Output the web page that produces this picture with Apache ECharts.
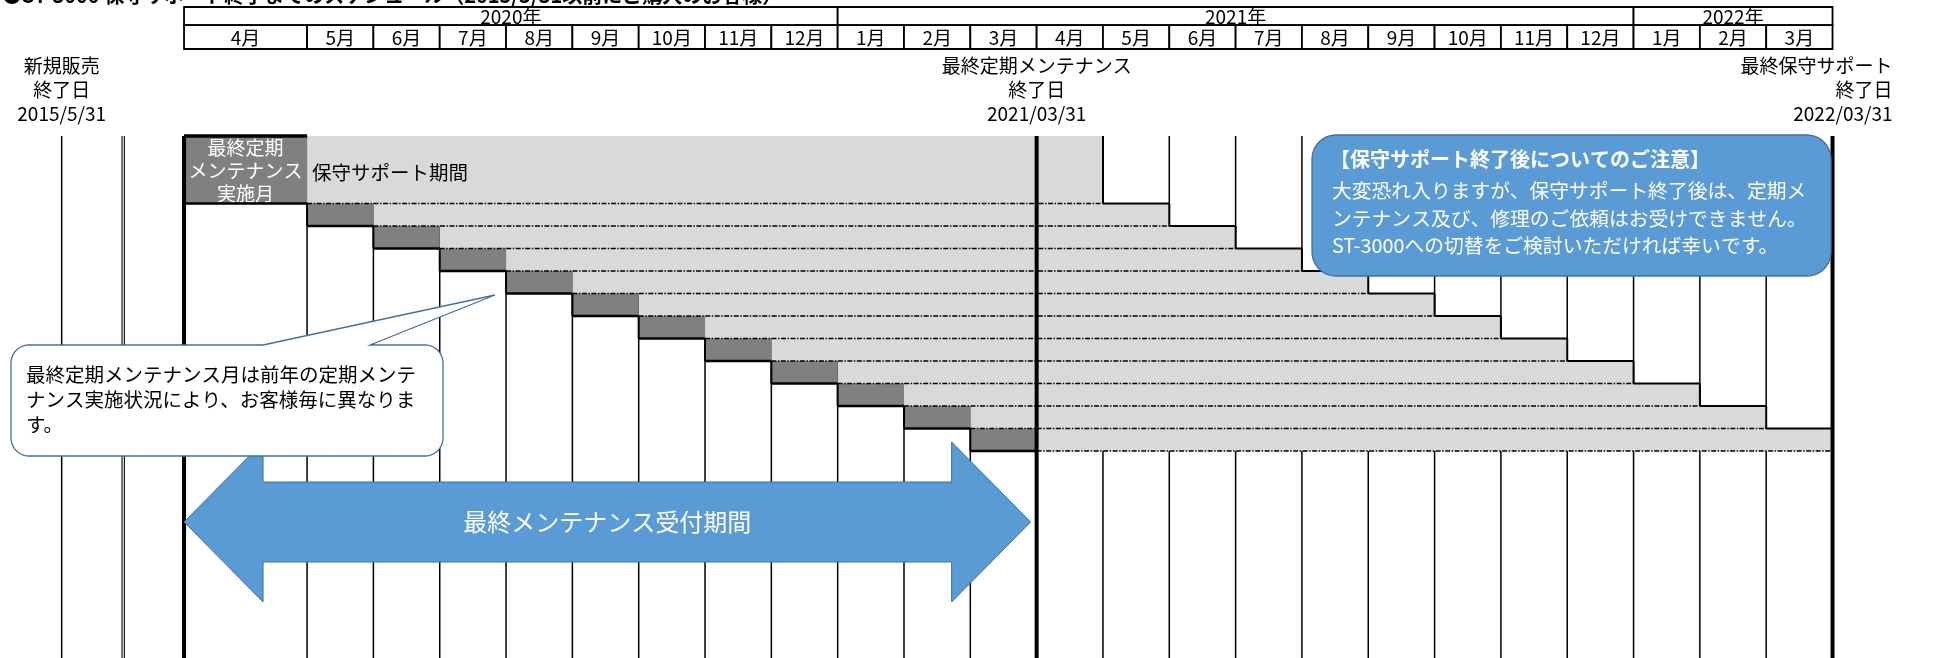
<!DOCTYPE html>
<html>
<head>
<meta charset="utf-8">
<script src="https://cdn.jsdelivr.net/npm/echarts@6/dist/echarts.min.js"></script>
<style>
  html, body { margin: 0; padding: 0; background: #fff; }
  #chart { width: 1934px; height: 658px; }
</style>
</head>
<body>
<div id="chart"></div>
<script>
// header rows
const yearLabels = ['2020年', '2021年', '2022年'];
const yearFirstMonth = [0, 9, 21];
const yearLastMonth = [8, 20, 23];
const monthLabels = ['4月', '5月', '6月', '7月', '8月', '9月', '10月', '11月', '12月', '1月', '2月', '3月',
  '4月', '5月', '6月', '7月', '8月', '9月', '10月', '11月', '12月', '1月', '2月', '3月'];

// one row per last maintenance month (index into monthLabels)
const maintMonth = [0, 1, 2, 3, 4, 5, 6, 7, 8, 9, 10, 11];
const supportEndMonth = [12, 13, 14, 15, 16, 17, 18, 19, 20, 21, 22, 23];

// milestone labels above the body
const milestoneLabels = ['新規販売\n終了日\n2015/5/31', '最終定期メンテナンス\n終了日\n2021/03/31', '最終保守サポート\n終了日\n2022/03/31'];
const milestoneAt = [-3.70, 11, 23];
const preLines = [-3.70, -2.79, -2.755];   // columns before 2020/4
const acceptPeriod = [0, 11];               // 最終メンテナンス受付期間

const FONT = '"Noto Sans CJK JP", "Noto Sans", sans-serif';
const DARK = '#808080';
const LIGHT = '#d9d9d9';
const BLUE = '#5b9bd5';
const BLUE_EDGE = '#41719c';
const firstColStart = -1.855;   // the 4月 column is wider, it holds the legend cell
const labelRowSpan = 3;

function colStart(i) { return i === 0 ? firstColStart : i - 1; }
function colEnd(i) { return i; }

const chart = echarts.init(document.getElementById('chart'));

const thinLines = preLines.concat(monthLabels.map((m, i) => colEnd(i)).filter(v => v !== colEnd(acceptPeriod[1]) && v !== colEnd(23)));
const thickLines = [colStart(acceptPeriod[0]), colEnd(acceptPeriod[1]), colEnd(supportEndMonth[supportEndMonth.length - 1])];

function renderVLine(width) {
  return function (params, api) {
    const a = api.coord([api.value(0), 0]);
    const b = api.coord([api.value(0), 23.2]);
    const lw = params.dataIndex >= 1 && params.dataIndex <= 2 && width < 2 ? 1.1 : width;
    return { type: 'line', shape: { x1: a[0], y1: a[1], x2: b[0], y2: b[1] }, style: { stroke: '#000', lineWidth: lw } };
  };
}

function rowGeom(k, api) {
  const m = api.value(0), end = api.value(1);
  const top = k === 0 ? 0 : k + labelRowSpan - 1;
  const bot = k + labelRowSpan;
  const p0 = api.coord([colStart(m), top]);
  const p1 = api.coord([colEnd(m), bot]);
  return {
    x0: p0[0], y0: p0[1], x1: p1[0], y1: p1[1],
    xe: api.coord([colEnd(end), bot])[0],
    xs: api.coord([colStart(end), bot])[0]
  };
}

function renderRowFill(params, api) {
  const g = rowGeom(params.dataIndex, api);
  const children = [
    { type: 'rect', shape: { x: g.x1, y: g.y0, width: g.xe - g.x1, height: g.y1 - g.y0 }, style: { fill: LIGHT } },
    { type: 'rect', shape: { x: g.x0, y: g.y0, width: g.x1 - g.x0, height: g.y1 - g.y0 }, style: { fill: DARK } }
  ];
  if (params.dataIndex === 0) {
    children.push({ type: 'text', style: { text: '最終定期\nメンテナンス\n実施月', x: (g.x0 + g.x1) / 2, y: (g.y0 + g.y1) / 2 + 1, align: 'center', verticalAlign: 'middle', lineHeight: 23, font: '19px ' + FONT, fill: '#fff' } });
    children.push({ type: 'text', style: { text: '保守サポート期間', x: g.x1 + 5, y: (g.y0 + g.y1) / 2 + 3, align: 'left', verticalAlign: 'middle', font: '19.5px ' + FONT, fill: '#000' } });
  }
  return { type: 'group', children: children };
}

function renderRowEdge(params, api) {
  const g = rowGeom(params.dataIndex, api);
  const children = [
    { type: 'line', shape: { x1: g.x1, y1: g.y1, x2: g.xe, y2: g.y1 }, style: { stroke: '#000', lineWidth: 1.6, lineDash: [5, 1.5, 1.5, 1.5] } },
    { type: 'line', shape: { x1: g.x0, y1: g.y1, x2: g.x1, y2: g.y1 }, style: { stroke: '#000', lineWidth: 2.5 } },
    { type: 'line', shape: { x1: g.x0, y1: g.y0, x2: g.x0, y2: g.y1 }, style: { stroke: '#000', lineWidth: 2 } },
    { type: 'line', shape: { x1: g.xe, y1: g.y0, x2: g.xe, y2: g.y1 }, style: { stroke: '#000', lineWidth: 2 } }
  ];
  if (params.dataIndex > 0) {
    children.push({ type: 'line', shape: { x1: g.xs, y1: g.y0, x2: g.xe, y2: g.y0 }, style: { stroke: '#000', lineWidth: 2 } });
  } else {
    children.push({ type: 'line', shape: { x1: g.x0, y1: g.y0, x2: g.x1, y2: g.y0 }, style: { stroke: '#000', lineWidth: 3.5 } });
  }
  return { type: 'group', children: children };
}

function renderHeaderCell(labels, first, last, yTop, yBot) {
  return function (params, api) {
    const i = params.dataIndex;
    const a = api.coord([colStart(first[i]), yTop]);
    const b = api.coord([colEnd(last[i]), yBot]);
    return {
      type: 'group', children: [
        { type: 'rect', shape: { x: a[0], y: a[1], width: b[0] - a[0], height: b[1] - a[1] }, style: { fill: '#fff', stroke: '#000', lineWidth: 1.8 } },
        { type: 'text', style: { text: labels[i], x: (a[0] + b[0]) / 2, y: (a[1] + b[1]) / 2 + 1, align: 'center', verticalAlign: 'middle', font: '19px ' + FONT, fill: '#000' } }
      ]
    };
  };
}

const milestoneDx = [0, 0, 60];
const milestoneAlign = ['center', 'center', 'right'];
function renderMilestone(params, api) {
  const i = params.dataIndex;
  const p = api.coord([api.value(0), 0]);
  return {
    type: 'text', style: {
      text: milestoneLabels[i], x: p[0] + milestoneDx[i], y: 54,
      align: milestoneAlign[i], verticalAlign: 'top', lineHeight: 24, font: '19px ' + FONT, fill: '#000'
    }
  };
}

function renderArrow(params, api) {
  const l = api.coord([colStart(api.value(0)), 0])[0];
  const r = api.coord([colEnd(api.value(1)), 0])[0] - 6;
  const cy = 522, head = 79, hh = 80, sh = 40;
  return {
    type: 'group', children: [
      { type: 'polygon', shape: { points: [[l, cy], [l + head, cy - hh], [l + head, cy - sh], [r - head, cy - sh], [r - head, cy - hh], [r, cy], [r - head, cy + hh], [r - head, cy + sh], [l + head, cy + sh], [l + head, cy + hh]] }, style: { fill: BLUE, stroke: BLUE_EDGE, lineWidth: 1 } },
      { type: 'text', style: { text: '最終メンテナンス受付期間', x: (l + r) / 2, y: cy, align: 'center', verticalAlign: 'middle', font: '24px ' + FONT, fill: '#fff' } }
    ]
  };
}

// rounded box outline, optional tail on the top edge
function boxPoints(x0, y0, x1, y1, r, tail) {
  const pts = [[x0 + r, y0]];
  if (tail) { pts.push([tail[0], y0], [tail[2], tail[3]], [tail[1], y0]); }
  const corners = [[x1 - r, y0 + r, -90], [x1 - r, y1 - r, 0], [x0 + r, y1 - r, 90], [x0 + r, y0 + r, 180]];
  corners.forEach(c => {
    for (let s = 0; s <= 10; s++) {
      const t = (c[2] + s * 9) * Math.PI / 180;
      pts.push([c[0] + r * Math.cos(t), c[1] + r * Math.sin(t)]);
    }
  });
  return pts;
}

const thinData = thinLines.map(v => [v, 0]);
const thickData = thickLines.map(v => [v, 0]);
const rowData = maintMonth.map((m, k) => [m, supportEndMonth[k]]);

chart.setOption({
  animation: false,
  grid: [
    { left: 0, right: 0, top: 136, bottom: 0 },
    { left: 0, right: 0, top: 7, height: 42 }
  ],
  xAxis: [
    { type: 'value', gridIndex: 0, min: -4.63, max: 24.53, show: false },
    { type: 'value', gridIndex: 1, min: -4.63, max: 24.53, show: false }
  ],
  yAxis: [
    { type: 'value', gridIndex: 0, min: 0, max: 23.2, inverse: true, show: false },
    { type: 'value', gridIndex: 1, min: 0, max: 2, inverse: true, show: false }
  ],
  series: [
    { type: 'custom', name: 'grid-thin', xAxisIndex: 0, yAxisIndex: 0, z: 1, silent: true, renderItem: renderVLine(1.5), data: thinData },
    { type: 'custom', name: 'rows', xAxisIndex: 0, yAxisIndex: 0, z: 2, silent: true, renderItem: renderRowFill, data: rowData },
    { type: 'custom', name: 'row-edges', xAxisIndex: 0, yAxisIndex: 0, z: 3, silent: true, renderItem: renderRowEdge, data: rowData },
    { type: 'custom', name: 'grid-thick', xAxisIndex: 0, yAxisIndex: 0, z: 4, silent: true, renderItem: renderVLine(4), data: thickData },
    { type: 'custom', name: 'arrow', xAxisIndex: 0, yAxisIndex: 0, z: 5, silent: true, renderItem: renderArrow, data: [acceptPeriod] },
    { type: 'custom', name: 'milestones', xAxisIndex: 0, yAxisIndex: 0, z: 5, silent: true, clip: false, renderItem: renderMilestone, data: milestoneAt.map(v => [v, 0]) },
    { type: 'custom', name: 'years', xAxisIndex: 1, yAxisIndex: 1, z: 5, silent: true, renderItem: renderHeaderCell(yearLabels, yearFirstMonth, yearLastMonth, 0, 0.86), data: yearLabels.map((y, i) => [i, 0]) },
    { type: 'custom', name: 'months', xAxisIndex: 1, yAxisIndex: 1, z: 5, silent: true, renderItem: renderHeaderCell(monthLabels, monthLabels.map((m, i) => i), monthLabels.map((m, i) => i), 0.86, 2), data: monthLabels.map((m, i) => [i, 1]) }
  ],
  graphic: [
    { type: 'text', x: 2, y: 5, z: 100, style: { text: '●ST-3000 保守サポート終了までのスケジュール（2015/5/31以前にご購入のお客様）', font: 'bold 20px ' + FONT, fill: '#000', verticalAlign: 'bottom' } },
    { type: 'polygon', z: 100, shape: { points: boxPoints(11, 345, 443, 456, 18, [263, 370, 495, 295]) }, style: { fill: '#fff', stroke: BLUE_EDGE, lineWidth: 1.3 } },
    { type: 'text', x: 26, y: 362, z: 101, style: { text: '最終定期メンテナンス月は前年の定期メンテ\nナンス実施状況により、お客様毎に異なりま\nす。', font: '19.5px ' + FONT, lineHeight: 25, fill: '#000' } },
    { type: 'polygon', z: 100, shape: { points: boxPoints(1312, 135, 1831, 276, 24) }, style: { fill: BLUE, stroke: BLUE_EDGE, lineWidth: 1.3 } },
    { type: 'text', x: 1330, y: 149, z: 101, style: { text: '【保守サポート終了後についてのご注意】', font: 'bold 20px ' + FONT, fill: '#fff' } },
    { type: 'text', x: 1332, y: 177, z: 101, style: { text: '大変恐れ入りますが、保守サポート終了後は、定期メ\nンテナンス及び、修理のご依頼はお受けできません。\nST-3000への切替をご検討いただければ幸いです。', font: '19.8px ' + FONT, lineHeight: 27.5, fill: '#fff' } }
  ]
});
</script>
</body>
</html>
